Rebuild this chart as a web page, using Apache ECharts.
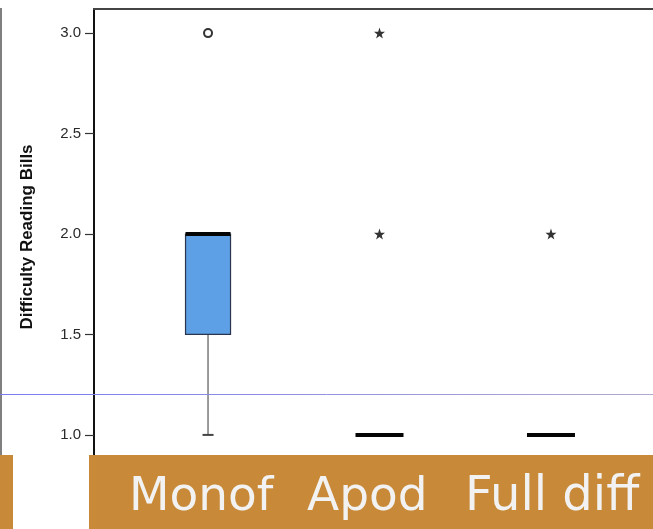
<!DOCTYPE html>
<html>
<head>
<meta charset="utf-8">
<script src="https://cdn.jsdelivr.net/npm/echarts@6/dist/echarts.min.js"></script>
<style>html,body{margin:0;padding:0;background:#fff;}#c{width:653px;height:529px;}</style>
</head>
<body>
<div id="c"></div>
<script>
// ---- data ----
const categories = ['Monof', 'Apod', 'Full diff'];
const catPos = [1, 2, 3];
const whiskerLow = [1.0, 1.0, 1.0];
const q1 = [1.5, 1.0, 1.0];
const median = [2.0, 1.0, 1.0];
const q3 = [2.0, 1.0, 1.0];
const whiskerHigh = [2.0, 1.0, 1.0];
const circleOutliers = [[1, 3.0]];
const starOutliers = [[2, 2.0], [2, 3.0], [3, 2.0]];
const yTicks = [1.0, 1.5, 2.0, 2.5, 3.0];
const yTitle = 'Difficulty Reading Bills';
const bandLabelX = [129, 307, 465];

const boxData = catPos.map((p, i) => [p, whiskerLow[i], q1[i], median[i], q3[i], whiskerHigh[i]]);

const STAR = 'path://M50,0 L61.8,35.1 L97.6,34.5 L68.8,56.6 L79.4,90.5 L50,70 L20.6,90.5 L31.2,56.6 L2.4,34.5 L38.2,35.1 Z';

function renderBox(params, api) {
  const x = api.value(0);
  const lo = api.value(1), a = api.value(2), m = api.value(3), b = api.value(4), hi = api.value(5);
  const pm = api.coord([x, m]);
  const pa = api.coord([x, a]);
  const pb = api.coord([x, b]);
  const plo = api.coord([x, lo]);
  const phi = api.coord([x, hi]);
  const half = 22.5;
  const cx = pm[0];
  const children = [];
  if (lo < a) {
    children.push({type: 'line', shape: {x1: cx, y1: pa[1], x2: cx, y2: plo[1]}, style: {stroke: '#7a7a7a', lineWidth: 1.5}});
    children.push({type: 'line', shape: {x1: cx - 5.5, y1: plo[1], x2: cx + 5.5, y2: plo[1]}, style: {stroke: '#444', lineWidth: 2}});
  }
  if (hi > b) {
    children.push({type: 'line', shape: {x1: cx, y1: pb[1], x2: cx, y2: phi[1]}, style: {stroke: '#7a7a7a', lineWidth: 1.5}});
    children.push({type: 'line', shape: {x1: cx - 5.5, y1: phi[1], x2: cx + 5.5, y2: phi[1]}, style: {stroke: '#444', lineWidth: 2}});
  }
  if (b > a) {
    children.push({type: 'rect', shape: {x: cx - half, y: pb[1], width: 2 * half, height: pa[1] - pb[1]},
      style: {fill: '#5ea0e6', stroke: '#2a3550', lineWidth: 1.2}});
  }
  const mh = (b > a) ? half : 24;
  children.push({type: 'line', shape: {x1: cx - mh, y1: pm[1], x2: cx + mh, y2: pm[1]}, style: {stroke: '#050505', lineWidth: 4}});
  return {type: 'group', children: children};
}

const chart = echarts.init(document.getElementById('c'), null, {renderer: 'canvas'});
chart.setOption({
  backgroundColor: '#ffffff',
  animation: false,
  grid: {left: 94, right: 0, top: 9, bottom: 74, containLabel: false},
  xAxis: {
    type: 'value', min: 0.335, max: 3.595, position: 'top',
    axisLine: {show: true, onZero: false, lineStyle: {color: '#444', width: 2}},
    axisTick: {show: false}, axisLabel: {show: false}, splitLine: {show: false}
  },
  yAxis: {
    type: 'value', min: 0.9, max: 3.12,
    axisLine: {show: true, onZero: false, lineStyle: {color: '#111', width: 2}},
    axisTick: {show: true, length: 9, customValues: yTicks, lineStyle: {color: '#333', width: 1.2}},
    axisLabel: {show: true, margin: 13, customValues: yTicks, color: '#2a2a2a', fontSize: 15,
      fontFamily: 'Liberation Sans, Arial, sans-serif', formatter: v => Number(v).toFixed(1)},
    splitLine: {show: false}
  },
  series: [
    {type: 'custom', renderItem: renderBox, data: boxData, encode: {x: 0, y: [1, 2, 3, 4, 5]}, z: 3},
    {type: 'scatter', data: circleOutliers, symbol: 'emptyCircle', symbolSize: 8,
      itemStyle: {color: '#000', borderColor: '#000', borderWidth: 2.2}, z: 4},
    {type: 'scatter', data: starOutliers, symbol: STAR, symbolSize: 11,
      itemStyle: {color: '#000'}, z: 4}
  ],
  graphic: [
    {type: 'line', shape: {x1: 1, y1: 8, x2: 1, y2: 455}, style: {stroke: '#555', lineWidth: 1.5}, z: 10},
    {type: 'line', shape: {x1: 0, y1: 394.5, x2: 653, y2: 394.5},
      style: {stroke: {type: 'linear', x: 0, y: 0, x2: 1, y2: 0, colorStops: [{offset: 0, color: '#7b7bf0'}, {offset: 0.35, color: '#8a8ae8'}, {offset: 1, color: '#b0aacc'}]}, lineWidth: 1}, z: 10},
    {type: 'text', x: 27, y: 237, rotation: Math.PI / 2,
      style: {text: yTitle, font: 'bold 17px "Liberation Sans", Arial, sans-serif', fill: '#111', align: 'center', verticalAlign: 'middle'}, z: 10},
    {type: 'rect', shape: {x: 0, y: 455, width: 13, height: 74}, style: {fill: '#c88a38'}, z: 20},
    {type: 'rect', shape: {x: 89, y: 455, width: 564, height: 74}, style: {fill: '#c88a38'}, z: 20},
    {type: 'text', x: bandLabelX[0], y: 498, style: {text: categories[0], font: '47px "DejaVu Sans", sans-serif', fill: '#f2f2f2', align: 'left', verticalAlign: 'middle'}, z: 21},
    {type: 'text', x: bandLabelX[1], y: 498, style: {text: categories[1], font: '47px "DejaVu Sans", sans-serif', fill: '#f2f2f2', align: 'left', verticalAlign: 'middle'}, z: 21},
    {type: 'text', x: bandLabelX[2], y: 498, style: {text: categories[2], font: '48px "DejaVu Sans", sans-serif', fill: '#f2f2f2', align: 'left', verticalAlign: 'middle'}, z: 21}
  ]
});
</script>
</body>
</html>
